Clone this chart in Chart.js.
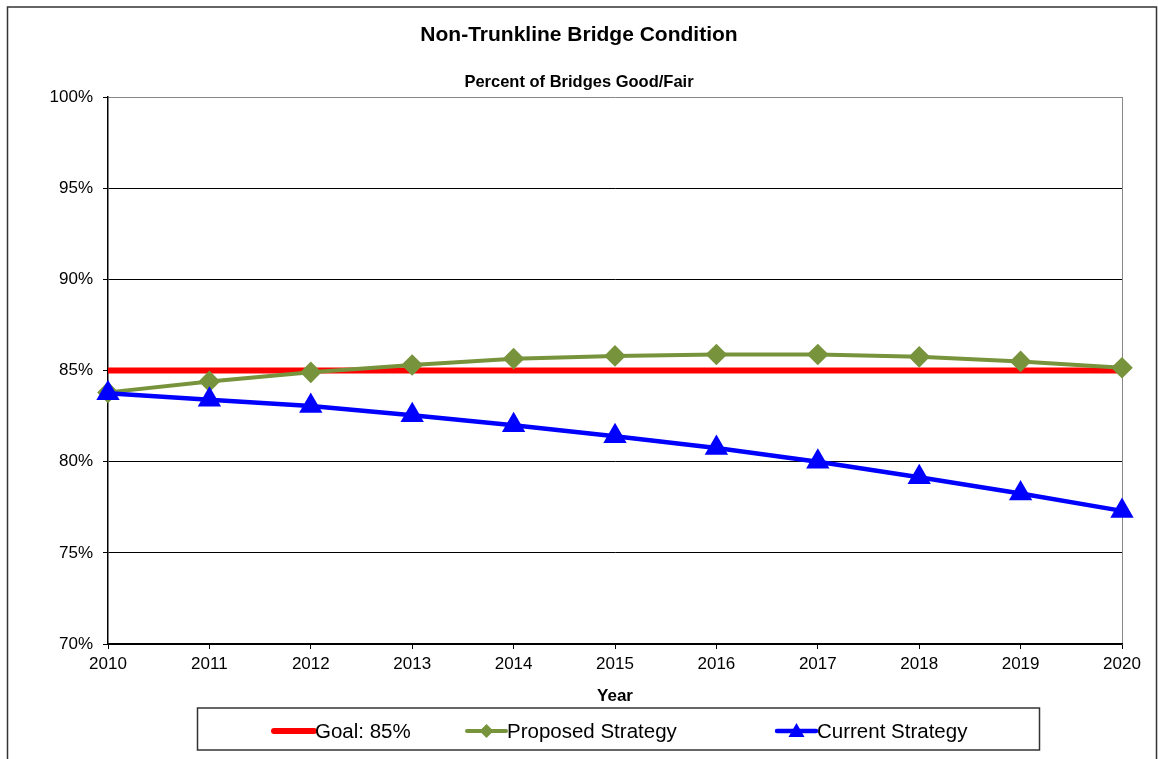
<!DOCTYPE html>
<html>
<head>
<meta charset="utf-8">
<script src="https://cdn.jsdelivr.net/npm/chart.js@4.4.1/dist/chart.umd.min.js"></script>
<style>
  html, body { margin: 0; padding: 0; background: #fff; }
  #wrap { position: relative; width: 1158px; height: 759px; }
</style>
</head>
<body>
<div id="wrap"><canvas id="bridgechart"></canvas></div>
<script>
// data
var years = ["2010", "2011", "2012", "2013", "2014", "2015", "2016", "2017", "2018", "2019", "2020"];
var goal = [85, 85, 85, 85, 85, 85, 85, 85, 85, 85, 85];
var proposed = [83.8, 84.4, 84.9, 85.3, 85.65, 85.8, 85.88, 85.88, 85.75, 85.5, 85.15];
var current = [83.75, 83.4, 83.05, 82.55, 82.0, 81.4, 80.75, 80.0, 79.15, 78.25, 77.3];
var yTicks = [70, 75, 80, 85, 90, 95, 100];

var FONT = "'Liberation Sans', Arial, Helvetica, sans-serif";

/*  frame round the whole chart + legend box  */
var framePlugin = {
    id: 'frame',
    beforeDraw: function (chart) {
        var c = chart.ctx;
        c.save();
        c.strokeStyle = '#333';
        c.lineWidth = 1.5;
        c.strokeRect(7.5, 7, 1149, 800);
        c.restore();
    },
    afterDraw: function (chart) {
        var c = chart.ctx;
        var ds = chart.data.datasets;
        c.save();
        c.strokeStyle = '#333';
        c.lineWidth = 1.5;
        c.strokeRect(197.5, 708, 842, 42);

        var items = [{x: 274, w: 40}, {x: 467, w: 39}, {x: 777, w: 39}];
        var cy = 731;
        c.font = '20.5px ' + FONT;
        c.textBaseline = 'middle';
        c.fillStyle = '#000';
        for (var i = 0; i < ds.length; i++) {
            var it = items[i];
            c.strokeStyle = ds[i].borderColor;
            c.lineWidth = ds[i].borderWidth;
            c.lineCap = 'round';
            c.beginPath();
            c.moveTo(it.x, cy);
            c.lineTo(it.x + it.w, cy);
            c.stroke();
            var mx = it.x + it.w / 2;
            if (ds[i].pointStyle === 'rectRot') {
                c.fillStyle = ds[i].pointBackgroundColor;
                c.beginPath();
                c.moveTo(mx, cy - 7); c.lineTo(mx + 7, cy); c.lineTo(mx, cy + 7); c.lineTo(mx - 7, cy);
                c.closePath();
                c.fill();
            } else if (ds[i].pointStyle === 'triangle') {
                c.fillStyle = ds[i].pointBackgroundColor;
                c.beginPath();
                c.moveTo(mx, cy - 8); c.lineTo(mx + 8, cy + 6); c.lineTo(mx - 8, cy + 6);
                c.closePath();
                c.fill();
            }
            c.fillStyle = '#000';
            c.fillText(ds[i].label, it.x + it.w + 1, cy + 1);
        }
        c.restore();
    }
};

var ctx = document.getElementById("bridgechart");
var bridgechart = new Chart(ctx, {
    type: 'line',
    data: {
        labels: years,
        datasets: [{
            label: 'Goal: 85%',
            data: goal,
            borderColor: '#ff0000',
            backgroundColor: '#ff0000',
            borderWidth: 6,
            pointRadius: 0,
            pointHoverRadius: 0,
            pointStyle: false,
            order: 3
        }, {
            label: 'Proposed Strategy',
            data: proposed,
            borderColor: '#77933c',
            backgroundColor: '#77933c',
            pointBackgroundColor: '#77933c',
            pointBorderColor: '#77933c',
            borderWidth: 4,
            pointStyle: 'rectRot',
            pointRadius: 8,
            order: 2
        }, {
            label: 'Current Strategy',
            data: current,
            borderColor: '#0000ff',
            backgroundColor: '#0000ff',
            pointBackgroundColor: '#0000ff',
            pointBorderColor: '#0000ff',
            borderWidth: 4.5,
            pointStyle: 'triangle',
            pointRadius: 9,
            order: 1
        }]
    },
    options: {
        responsive: true,
        maintainAspectRatio: false,
        animation: false,
        layout: {
            padding: { left: 36, right: 36, top: 0, bottom: 0 }
        },
        plugins: {
            legend: { display: false },
            tooltip: { enabled: false },
            title: {
                display: true,
                text: 'Non-Trunkline Bridge Condition',
                color: '#000',
                font: { family: FONT, size: 21, weight: 'bold' },
                padding: { top: 23, bottom: 22 }
            },
            subtitle: {
                display: true,
                text: 'Percent of Bridges Good/Fair',
                color: '#000',
                font: { family: FONT, size: 16.5, weight: 'bold' },
                padding: { top: 2, bottom: 5 }
            }
        },
        scales: {
            x: {
                offset: false,
                grid: {
                    drawTicks: true,
                    tickLength: 5,
                    tickColor: '#000',
                    color: function (c) {
                        return c.index === years.length - 1 ? '#888' : 'rgba(0,0,0,0)';
                    }
                },
                border: { display: true, color: '#000', width: 1.5 },
                ticks: {
                    color: '#000',
                    padding: 5,
                    maxRotation: 0,
                    autoSkip: false,
                    font: { family: FONT, size: 17 }
                },
                title: {
                    display: true,
                    text: 'Year',
                    color: '#000',
                    font: { family: FONT, size: 17, weight: 'bold' },
                    padding: { top: 0, bottom: 52 }
                },
                afterFit: function (s) { s.height = 115; }
            },
            y: {
                min: 70,
                max: 100,
                afterBuildTicks: function (s) {
                    s.ticks = yTicks.map(function (v) { return { value: v }; });
                },
                grid: {
                    drawTicks: true,
                    tickLength: 5,
                    tickColor: '#000',
                    color: function (c) {
                        return c.tick && c.tick.value === 100 ? '#888' : '#000';
                    },
                    lineWidth: 1
                },
                border: { display: true, color: '#000', width: 1.5 },
                ticks: {
                    color: '#000',
                    padding: 10,
                    font: { family: FONT, size: 17 },
                    callback: function (v) { return v + '%'; }
                },
                afterFit: function (s) { s.width = 72; }
            }
        }
    },
    plugins: [framePlugin]
});
</script>
</body>
</html>
